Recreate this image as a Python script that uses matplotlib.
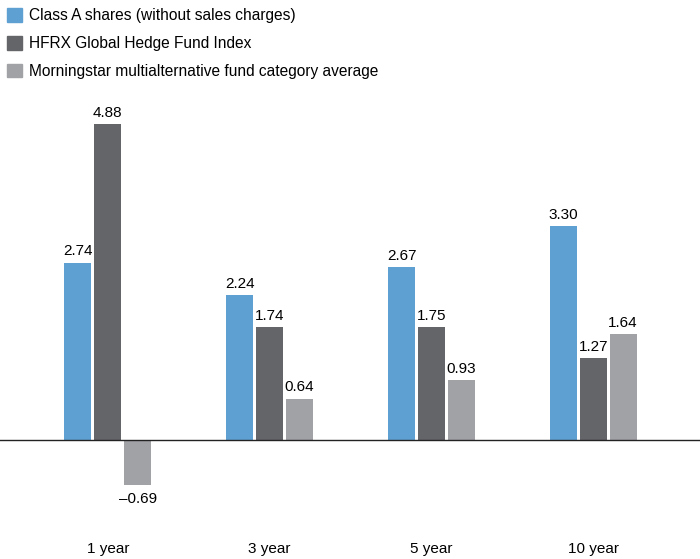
import matplotlib
matplotlib.use("Agg")
import matplotlib.pyplot as plt
from matplotlib.patches import Patch
import numpy as np

categories = ["1 year", "3 year", "5 year", "10 year"]
series_names = ["Class A shares (without sales charges)",
                "HFRX Global Hedge Fund Index",
                "Morningstar multialternative fund category average"]
class_a = [2.74, 2.24, 2.67, 3.30]
hfrx = [4.88, 1.74, 1.75, 1.27]
morningstar = [-0.69, 0.64, 0.93, 1.64]
colors = ["#5fa0d2", "#646569", "#a1a2a6"]

plt.rcParams['font.family'] = ['Liberation Sans', 'DejaVu Sans']

W, H = 700, 559
fig = plt.figure(figsize=(W/100, H/100), dpi=100)
ax_bottom_px, ax_top_px = 500, 100
ax = fig.add_axes([0, 1 - ax_bottom_px/H, 1, (ax_bottom_px - ax_top_px)/H])

x = np.arange(len(categories))
width = 0.167
offset = 0.185
data = [class_a, hfrx, morningstar]
for i, (vals, c) in enumerate(zip(data, colors)):
    pos = x + (i - 1) * offset
    ax.bar(pos, vals, width=width, color=c, zorder=2)
    for p, v in zip(pos, vals):
        txt = f"{v:.2f}".replace("-", "\u2013")
        if v >= 0:
            ax.annotate(txt, (p, v), xytext=(0, 3), textcoords="offset points",
                        ha="center", va="bottom", fontsize=11)
        else:
            ax.annotate(txt, (p, v), xytext=(0, -5), textcoords="offset points",
                        ha="center", va="top", fontsize=11)

ax.axhline(0, color="#222222", lw=1.0, zorder=3)
ax.set_xlim(-0.667, 3.66)
ax.set_ylim(-(ax_bottom_px - 440)/64.75, (440 - ax_top_px)/64.75)
ax.set_xticks(x)
ax.set_xticklabels(categories, fontsize=11)
ax.tick_params(axis="x", length=0, pad=30)
ax.set_yticks([])
for s in ax.spines.values():
    s.set_visible(False)

handles = [Patch(color=c) for c in colors]
fig.legend(handles, series_names, loc="upper left", bbox_to_anchor=(-0.006, 1.005),
           frameon=False, fontsize=11.2, handlelength=1.0, handleheight=1.0,
           handletextpad=0.45, labelspacing=0.8, borderaxespad=0.3)

fig.savefig("out.png", dpi=100)
